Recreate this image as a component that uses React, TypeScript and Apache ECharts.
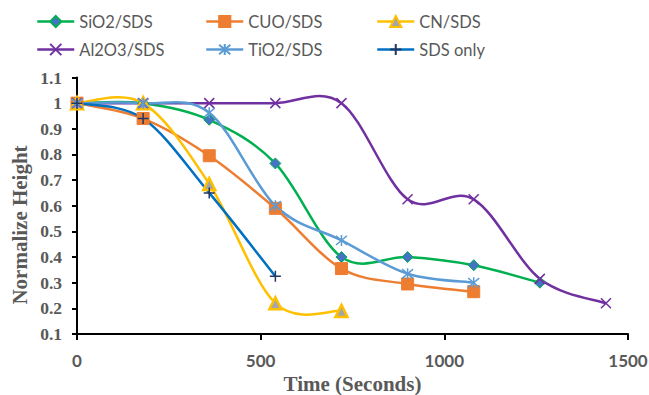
import React, { useEffect, useRef } from "react";
import * as echarts from "echarts";

const times = [0, 180, 360, 540, 720, 900, 1080, 1260, 1440];
const sio2 = [1, 1, 0.935, 0.765, 0.4, 0.4, 0.368, 0.3];
const cuo = [1, 0.94, 0.795, 0.59, 0.355, 0.295, 0.265];
const cn = [1, 1, 0.685, 0.22, 0.19];
const al2o3 = [1, 1, 1, 1, 1, 0.625, 0.625, 0.315, 0.22];
const tio2 = [1, 1, 0.963, 0.6, 0.465, 0.335, 0.3];
const sdsOnly = [1, 0.94, 0.65, 0.325];
const seriesNames = ["SiO2/SDS", "CUO/SDS", "CN/SDS", "Al2O3/SDS", "TiO2/SDS", "SDS only"];
const yTicks = [0.1, 0.2, 0.3, 0.4, 0.5, 0.6, 0.7, 0.8, 0.9, 1, 1.1];
const xTicks = [0, 500, 1000, 1500];

const pair = (vals: number[]) => vals.map((v, i) => [times[i], v]);

const X_PATH = "path://M0,0L10,10M10,0L0,10";
const STAR_PATH = "path://M0,0L10,10M10,0L0,10M5,-1L5,11";
const PLUS_PATH = "path://M5,0L5,10M0,5L10,5";

// Excel-like smoothed curve (Catmull-Rom style bezier) in pixel space
function buildPath(pts: number[][]) {
  const t = 1 / 6;
  let d = `M${pts[0][0]},${pts[0][1]}`;
  for (let i = 0; i < pts.length - 1; i++) {
    const p0 = pts[i - 1] || pts[i];
    const p1 = pts[i];
    const p2 = pts[i + 1];
    const p3 = pts[i + 2] || pts[i + 1];
    const c1x = p1[0] + (p2[0] - p0[0]) * t;
    const c1y = p1[1] + (p2[1] - p0[1]) * t;
    const c2x = p2[0] - (p3[0] - p1[0]) * t;
    const c2y = p2[1] - (p3[1] - p1[1]) * t;
    d += `C${c1x},${c1y},${c2x},${c2y},${p2[0]},${p2[1]}`;
  }
  return d;
}

export default function App() {
  const ref = useRef<HTMLDivElement>(null);
  useEffect(() => {
    if (!ref.current) return;
    const chart = echarts.init(ref.current, null, { renderer: "svg" });
    const lw = 2.5;
    const defs = [
      { name: seriesNames[0], data: sio2, line: "#00B050", symbol: "diamond", size: 11, item: { color: "#4472C4", borderColor: "#00B050", borderWidth: 1 } },
      { name: seriesNames[1], data: cuo, line: "#ED7D31", symbol: "rect", size: 12, item: { color: "#ED7D31", borderColor: "#ED7D31", borderWidth: 1 } },
      { name: seriesNames[2], data: cn, line: "#FFC000", symbol: "triangle", size: 12, item: { color: "#A5A5A5", borderColor: "#FFC000", borderWidth: 2.5 } },
      { name: seriesNames[3], data: al2o3, line: "#7030A0", symbol: X_PATH, size: 10, item: { color: "none", borderColor: "#7030A0", borderWidth: 1.5 } },
      { name: seriesNames[4], data: tio2, line: "#5B9BD5", symbol: STAR_PATH, size: 11, item: { color: "none", borderColor: "#5B9BD5", borderWidth: 1.5 } },
      { name: seriesNames[5], data: sdsOnly, line: "#0070C0", symbol: PLUS_PATH, size: 11, item: { color: "none", borderColor: "#203864", borderWidth: 1.5 } },
    ];
    const series: any[] = [];
    defs.forEach((s) => {
      const pts = pair(s.data);
      series.push({
        name: s.name + "-curve",
        type: "custom",
        coordinateSystem: "cartesian2d",
        data: pts,
        clip: false,
        silent: true,
        z: 2,
        renderItem: (params: any, api: any) => {
          if (params.dataIndex !== 0) return null;
          const px = pts.map((p) => api.coord(p));
          return {
            type: "path",
            shape: { pathData: buildPath(px) },
            style: { stroke: s.line, lineWidth: lw, fill: "none" },
          };
        },
      });
      series.push({
        name: s.name,
        type: "line",
        data: pts,
        symbol: s.symbol,
        symbolSize: s.size,
        showSymbol: true,
        z: 2,
        lineStyle: { color: s.line, width: lw, opacity: 0 },
        itemStyle: s.item,
        emphasis: { disabled: true },
      });
    });
    const legendPos = [
      [36, 13], [205, 13], [376, 13],
      [36, 41], [205, 41], [376, 41],
    ];
    const legends = defs.map((s, i) => ({
      data: [{ name: s.name, lineStyle: { color: s.line, width: lw, opacity: 1 } }],
      left: legendPos[i][0],
      top: legendPos[i][1],
      itemWidth: 37,
      itemHeight: 14,
      itemGap: 0,
      padding: 0,
      textStyle: { fontFamily: "Lato", fontSize: 16.5, lineHeight: 16, color: "#595959" },
      selectedMode: false,
    }));
    chart.setOption({
      animation: false,
      legend: legends,
      grid: { left: 77, right: 21, top: 77.5, bottom: 61, containLabel: false, outerBoundsMode: "none" },
      graphic: [
        {
          type: "text",
          x: 20,
          y: 225,
          rotation: Math.PI / 2,
          style: {
            text: "Normalize Height",
            align: "center",
            verticalAlign: "middle",
            fontFamily: "Liberation Serif",
            fontWeight: "bold",
            fontSize: 21,
            fill: "#595959",
          },
        },
      ],
      xAxis: {
        type: "value",
        min: 0,
        max: 1500,
        interval: 500,
        name: "Time (Seconds)",
        nameLocation: "middle",
        nameGap: 38,
        nameTextStyle: { fontFamily: "Liberation Serif", fontWeight: "bold", fontSize: 21, lineHeight: 21, color: "#595959" },
        axisLine: { show: true, lineStyle: { color: "#000", width: 2 } },
        axisTick: { show: true, length: 6, lineStyle: { color: "#000", width: 2 } },
        splitLine: { show: false },
        axisLabel: {
          margin: 18,
          fontFamily: "Lato",
          fontWeight: "bold",
          fontSize: 17,
          color: "#595959",
          formatter: (v: number) => (xTicks.includes(v) ? String(v) : ""),
        },
      },
      yAxis: {
        type: "value",
        min: 0.1,
        max: 1.1,
        interval: 0.1,
        axisLine: { show: true, lineStyle: { color: "#000", width: 2 } },
        axisTick: { show: true, length: 5, lineStyle: { color: "#000", width: 2 } },
        splitLine: { show: false },
        axisLabel: {
          margin: 15,
          fontFamily: "Liberation Serif",
          fontWeight: "bold",
          fontSize: 17.5,
          color: "#595959",
          formatter: (v: number) => {
            const r = Math.round(v * 10) / 10;
            return yTicks.includes(r) ? String(r) : "";
          },
        },
      },
      series,
    });
    return () => chart.dispose();
  }, []);
  return <div ref={ref} style={{ width: 649, height: 395, position: "absolute", left: 0, top: 0, background: "#fff" }} />;
}
